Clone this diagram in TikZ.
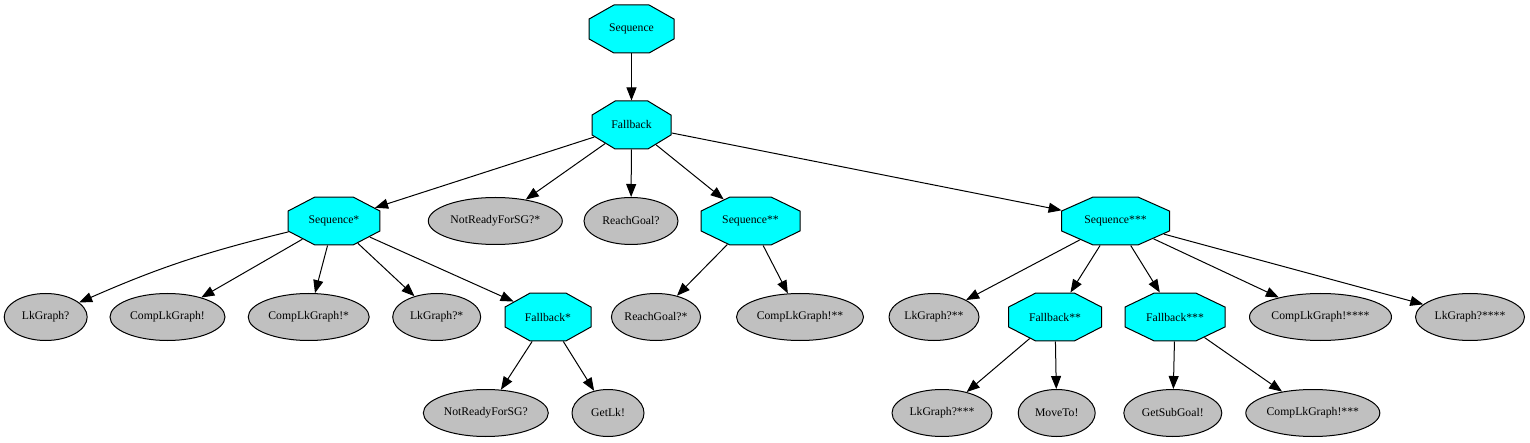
\documentclass[tikz,border=0pt]{standalone}
\usepackage{fontspec}
\setmainfont{Liberation Serif}
\usetikzlibrary{shapes.geometric,arrows.meta}
\definecolor{octfill}{RGB}{0,255,255}
\definecolor{ellfill}{HTML}{C0C0C0}
\tikzset{
  octs/.style={regular polygon, regular polygon sides=8, minimum size=51.95pt,
    inner sep=0pt, draw=black, fill=octfill, line width=1pt},
  txt/.style={font=\fontsize{11.7}{14}\selectfont, inner sep=0pt},
  ell/.style={ellipse, draw=black, fill=ellfill, line width=1pt, inner sep=0pt,
    minimum height=47pt, font=\fontsize{11.7}{14}\selectfont},
  edge/.style={line width=1pt, -{Triangle[length=13pt,width=10pt]}},
}
\newcommand\octn[5]{%
  \begin{scope}[shift={(#2,#3)},xscale=#4/48]
    \node[octs,transform shape] (#1) at (0,0) {};
  \end{scope}
  \node[txt] (#1-t) at (#1.center) {#5};}
\begin{document}
\begin{tikzpicture}[x=1pt,y=-1pt]
\useasboundingbox (0,0) rectangle (1530,443);
% octagons
\octn{s0}{631.5}{29}{85}{Sequence}
\octn{f0}{631.5}{125}{79}{Fallback}
\octn{s1}{334}{221}{92}{Sequence*}
\octn{s2}{750.5}{221}{99}{Sequence**}
\octn{s3}{1115.5}{221}{108}{Sequence***}
\octn{f1}{548}{317}{86}{Fallback*}
\octn{f2}{1055}{317}{93}{Fallback**}
\octn{f3}{1175}{317}{100}{Fallback***}
% ellipses
\node[ell, minimum width=134pt] (nr1) at (495.3,221) {NotReadyForSG?*};
\node[ell, minimum width=94pt] (rg) at (631,221) {ReachGoal?};
\node[ell, minimum width=83pt] (lk1) at (45.7,317) {LkGraph?};
\node[ell, minimum width=115pt] (clk) at (167.5,317) {CompLkGraph!};
\node[ell, minimum width=121pt] (clk1) at (308.7,317) {CompLkGraph!*};
\node[ell, minimum width=88pt] (lk2) at (436.7,317) {LkGraph?*};
\node[ell, minimum width=88pt] (rg2) at (656,317) {ReachGoal?*};
\node[ell, minimum width=127pt] (clk2) at (800,317) {CompLkGraph!**};
\node[ell, minimum width=90pt] (lk3) at (934,317) {LkGraph?**};
\node[ell, minimum width=142pt] (clk4) at (1320.5,317) {CompLkGraph!****};
\node[ell, minimum width=109pt] (lk5) at (1470,317) {LkGraph?****};
\node[ell, minimum width=125pt] (nr) at (485.8,413) {NotReadyForSG?};
\node[ell, minimum width=72pt] (gl) at (608,413) {GetLk!};
\node[ell, minimum width=100pt] (lk4) at (942,413) {LkGraph?***};
\node[ell, minimum width=77pt] (mv) at (1056.7,413) {MoveTo!};
\node[ell, minimum width=98pt] (gs) at (1172.8,413) {GetSubGoal!};
\node[ell, minimum width=134pt] (clk3) at (1312.8,413) {CompLkGraph!***};
% edges
\draw[edge] (s0) -- (f0);
\draw[edge] (f0) -- (s1);
\draw[edge] (f0) -- (nr1);
\draw[edge] (f0) -- (rg);
\draw[edge] (f0) -- (s2);
\draw[edge] (f0) -- (s3);
\draw[edge] (s1) to[bend right=5] (lk1);
\draw[edge] (s1) -- (clk);
\draw[edge] (s1) -- (clk1);
\draw[edge] (s1) -- (lk2);
\draw[edge] (s1) -- (f1);
\draw[edge] (f1) -- (nr);
\draw[edge] (f1) -- (gl);
\draw[edge] (s2) -- (rg2);
\draw[edge] (s2) -- (clk2);
\draw[edge] (s3) -- (lk3);
\draw[edge] (s3) -- (f2);
\draw[edge] (s3) -- (f3);
\draw[edge] (s3) -- (clk4);
\draw[edge] (s3) -- (lk5);
\draw[edge] (f2) -- (lk4);
\draw[edge] (f2) -- (mv);
\draw[edge] (f3) -- (gs);
\draw[edge] (f3) -- (clk3);
\end{tikzpicture}
\end{document}
